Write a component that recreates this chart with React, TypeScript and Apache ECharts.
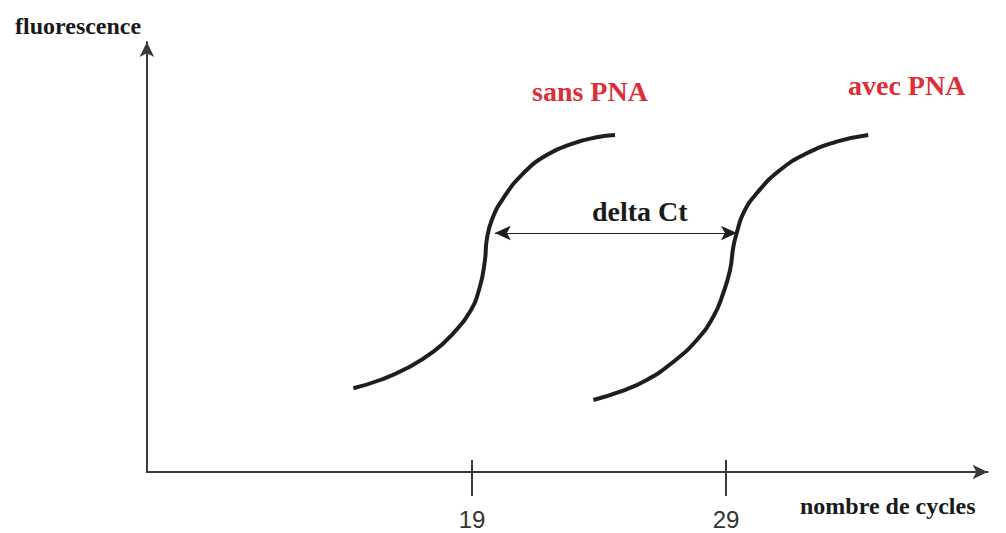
import React, { useEffect, useRef } from "react";
import * as echarts from "echarts";

// Cycle values (x) and fluorescence (y, arbitrary units)
const sansPnaX = [14.33, 15.38, 16.43, 17.48, 18.26, 18.92, 19.31, 19.51, 19.58, 19.78, 20.23, 21.02, 21.94, 22.99, 23.91, 24.63];
const sansPnaY = [83.7, 92, 103.7, 120.3, 138.7, 160.3, 185.3, 212, 232, 252, 273.7, 298.7, 317, 328.7, 334.7, 337];
const avecPnaX = [23.78, 24.83, 25.88, 26.93, 27.85, 28.5, 28.89, 29.16, 29.29, 29.42, 29.68, 30.21, 31.13, 32.18, 33.36, 34.6];
const avecPnaY = [72, 80.3, 92, 110.3, 132, 155.3, 178.7, 202, 225.3, 238.7, 258.7, 278.7, 302, 318.7, 330.3, 337];
const tickValues = [19, 29];
const deltaCt = { from: 19.9, to: 29.43, level: 239 };

const xMin = 6.2;
const xMax = 39.3;
const yMin = 0;
const yMax = 430;

const AXIS_COLOR = "#3a3a3a";
const CURVE_COLOR = "#1e1e1e";
const RED = "#dc2f3a";
const SERIF = "'Liberation Serif', 'Times New Roman', serif";

export default function App() {
  const ref = useRef<HTMLDivElement>(null);

  useEffect(() => {
    if (!ref.current) return;
    const chart = echarts.init(ref.current, null, { renderer: "svg" });
    const toPairs = (xs: number[], ys: number[]) => xs.map((x, i) => [x, ys[i]]);

    chart.setOption({
      animation: false,
      backgroundColor: "#ffffff",
      grid: { left: 146.9, right: 18.4, top: 42, bottom: 61, containLabel: false },
      xAxis: [
        {
          type: "value",
          min: xMin,
          max: xMax,
          position: "bottom",
          axisLine: {
            show: true,
            onZero: false,
            symbol: ["none", "arrow"],
            symbolSize: [11, 15],
            lineStyle: { color: AXIS_COLOR, width: 2 },
          },
          axisTick: {
            show: true,
            customValues: tickValues,
            length: 24,
            lineStyle: { color: AXIS_COLOR, width: 2 },
          },
          axisLabel: {
            show: true,
            customValues: tickValues,
            margin: 35,
            color: "#333333",
            fontFamily: "'Liberation Sans', Arial, sans-serif",
            fontSize: 24,
          },
          splitLine: { show: false },
        },
        {
          type: "value",
          min: xMin,
          max: xMax,
          position: "bottom",
          axisLine: { show: false, onZero: false },
          axisTick: {
            show: true,
            inside: true,
            customValues: tickValues,
            length: 12,
            lineStyle: { color: AXIS_COLOR, width: 2 },
          },
          axisLabel: { show: false },
          splitLine: { show: false },
        },
      ],
      yAxis: {
        type: "value",
        min: yMin,
        max: yMax,
        axisLine: {
          show: true,
          onZero: false,
          symbol: ["none", "arrow"],
          symbolSize: [11, 15],
          lineStyle: { color: AXIS_COLOR, width: 2 },
        },
        axisTick: { show: false },
        axisLabel: { show: false },
        splitLine: { show: false },
      },
      series: [
        {
          name: "sans PNA",
          type: "line",
          data: toPairs(sansPnaX, sansPnaY),
          smooth: 0.5,
          showSymbol: false,
          lineStyle: { color: CURVE_COLOR, width: 4 },
          markLine: {
            silent: true,
            symbol: ["arrow", "arrow"],
            symbolSize: [11, 16],
            label: { show: false },
            lineStyle: { color: CURVE_COLOR, width: 1.2, type: "solid" },
            data: [
              [
                { coord: [deltaCt.from, deltaCt.level] },
                { coord: [deltaCt.to, deltaCt.level] },
              ],
            ],
          },
        },
        {
          name: "avec PNA",
          type: "line",
          data: toPairs(avecPnaX, avecPnaY),
          smooth: 0.5,
          showSymbol: false,
          lineStyle: { color: CURVE_COLOR, width: 4 },
        },
      ],
      graphic: [
        {
          type: "text",
          x: 15,
          y: 26,
          style: { text: "fluorescence", font: `bold 24px ${SERIF}`, fill: "#1a1a1a", textVerticalAlign: "middle" },
        },
        {
          type: "text",
          x: 800,
          y: 506,
          style: { text: "nombre de cycles", font: `bold 24px ${SERIF}`, fill: "#1a1a1a", textVerticalAlign: "middle" },
        },
        {
          type: "text",
          x: 532,
          y: 91,
          style: { text: "sans PNA", font: `bold 28px ${SERIF}`, fill: RED, textVerticalAlign: "middle" },
        },
        {
          type: "text",
          x: 848,
          y: 85,
          style: { text: "avec PNA", font: `bold 28px ${SERIF}`, fill: RED, textVerticalAlign: "middle" },
        },
        {
          type: "text",
          x: 592,
          y: 211,
          style: { text: "delta Ct", font: `bold 28px ${SERIF}`, fill: "#1a1a1a", textVerticalAlign: "middle" },
        },
      ],
    });

    return () => chart.dispose();
  }, []);

  return <div ref={ref} style={{ width: 1006, height: 533, position: "absolute", left: 0, top: 0 }} />;
}
